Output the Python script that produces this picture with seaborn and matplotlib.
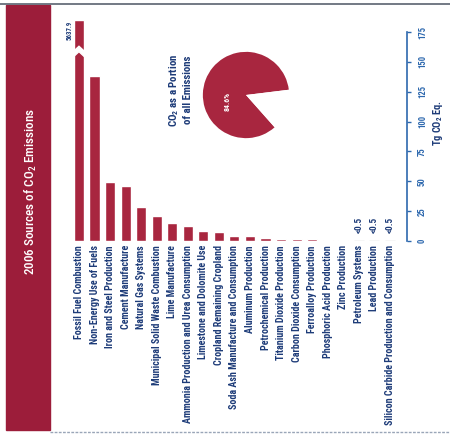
import matplotlib
matplotlib.use("Agg")
import matplotlib.pyplot as plt
import matplotlib.font_manager as fm
from matplotlib.patches import Rectangle, Polygon
from matplotlib.lines import Line2D
import seaborn as sns

categories = [
    "Fossil Fuel Combustion",
    "Non-Energy Use of Fuels",
    "Iron and Steel Production",
    "Cement Manufacture",
    "Natural Gas Systems",
    "Municipal Solid Waste Combustion",
    "Lime Manufacture",
    "Ammonia Production and Urea Consumption",
    "Limestone and Dolomite Use",
    "Cropland Remaining Cropland",
    "Soda Ash Manufacture and Consumption",
    "Aluminum Production",
    "Petrochemical Production",
    "Titanium Dioxide Production",
    "Carbon Dioxide Consumption",
    "Ferroalloy Production",
    "Phosphoric Acid Production",
    "Zinc Production",
    "Petroleum Systems",
    "Lead Production",
    "Silicon Carbide Production and Consumption",
]
values = [5637.9, 138.0, 49.1, 45.7, 28.5, 20.9, 15.1, 12.4, 8.6, 7.9,
          4.2, 3.9, 2.6, 1.9, 1.6, 1.5, 1.2, 0.5, 0.3, 0.3, 0.2]
small_flags = ["", "", "", "", "", "", "", "", "", "", "", "", "", "", "", "",
               "", "", "<0.5", "<0.5", "<0.5"]
y_ticks = [0, 25, 50, 75, 100, 125, 150, 175]
pie_values = [84.6, 15.4]
axis_cap = 185

sns.set_theme(style="white")

# pick a condensed face if one is installed
fam, stretch = "Liberation Sans", "normal"
entries = fm.fontManager.ttflist
names = {f.name for f in entries}
if "Liberation Sans Narrow" in names:
    fam = "Liberation Sans Narrow"
elif "Roboto Condensed" in names:
    fam = "Roboto Condensed"
else:
    for pref in ["Noto Sans", "Roboto", "Open Sans", "DejaVu Sans", "Liberation Sans"]:
        if any(f.name == pref and f.stretch in ("condensed", "semi-condensed", 75, 87.5)
               for f in entries):
            fam, stretch = pref, "condensed"
            break
    else:
        fam = "Roboto" if "Roboto" in names else "Liberation Sans"
plt.rcParams["font.family"] = [fam, "DejaVu Sans"]
plt.rcParams["font.stretch"] = stretch

RED = "#a8263f"
BAND = "#9c1d3a"
NAVY = "#1d3b78"
BLUE = "#2d68ae"
GREY = "#b8b8b8"

fig = plt.figure(figsize=(4.5, 4.34), dpi=100)
fig.patch.set_facecolor("white")
renderer = fig.canvas.get_renderer()


def fit_len(texts, ref, target_px):
    """scale font size of texts so that ref's rotated length equals target_px"""
    ln = ref.get_window_extent(renderer).height
    for t in texts:
        t.set_fontsize(t.get_fontsize() * target_px / ln)


# title band
fig.patches.append(Rectangle((6 / 450, 4 / 434), 44 / 450, 425 / 434,
                             transform=fig.transFigure, color=BAND, zorder=0))
title = fig.text(31 / 450, 1 - 191 / 434, r"2006 Sources of CO$_\mathregular{2}$ Emissions",
                 rotation=90, color="white", ha="center", va="center", fontsize=10.5,
                 fontweight="medium", fontstretch=stretch)
fit_len([title], title, 168)
fig.add_artist(Line2D([0, 1], [1 - 4 / 434] * 2, color="#5a6270", lw=1.2,
                      transform=fig.transFigure))
fig.add_artist(Line2D([50 / 450, 1], [1 - 432 / 434] * 2, color="#9aa6b8", lw=1,
                      ls=(0, (2, 1)), transform=fig.transFigure))

# main bar axes
ax = fig.add_axes([71.2 / 450, (434 - 241) / 434, 335.8 / 450, 221 / 434])
ax.set_facecolor("none")
disp = [min(v, axis_cap) for v in values]
colors = [GREY if f else RED for f in small_flags]
sns.barplot(x=categories, y=disp, hue=categories, palette=colors, legend=False,
            width=0.65, saturation=1, ax=ax)
ax.set_xlim(-0.5, 21.1)
ax.set_ylim(0, axis_cap)

for p, f in zip(ax.patches, small_flags):
    if f:
        p.set_edgecolor(GREY)
        p.set_linewidth(0.9)

# break in first bar
p0 = ax.patches[0]
x0, w = p0.get_x(), p0.get_width()
x1, xc = x0 + w, x0 + w / 2
ax.add_patch(Polygon([(x0 - 0.05, 154), (xc, 158.5), (x1 + 0.05, 154),
                      (x1 + 0.05, 158.5), (xc, 163), (x0 - 0.05, 158.5)],
                     closed=True, color="white", zorder=5))
big = ax.text(x0 - 0.3, axis_cap - 1, "5637.9", rotation=90, ha="center", va="top",
              fontsize=6.5, fontweight="bold", color=NAVY, clip_on=False)
fit_len([big], big, 19)

flag_texts = []
for i, (v, f) in enumerate(zip(disp, small_flags)):
    if f:
        flag_texts.append(ax.annotate(f, (i, v), xytext=(0, 5.5), textcoords="offset points",
                                      rotation=90, ha="center", va="bottom", fontsize=6.5,
                                      fontweight="bold", color=NAVY))
fit_len(flag_texts, flag_texts[0], 16)

for s in ["top", "left", "bottom"]:
    ax.spines[s].set_visible(False)
ax.spines["right"].set_visible(True)
ax.spines["right"].set_bounds(0, 175)
ax.spines["right"].set_color(BLUE)
ax.spines["right"].set_linewidth(1.2)
ax.yaxis.tick_right()
ax.set_yticks(y_ticks)
ylabels = ax.set_yticklabels([str(t) for t in y_ticks], rotation=90, va="center", ha="left",
                             fontsize=6.5, fontweight="bold", color=BLUE)
ax.tick_params(axis="y", colors=BLUE, length=3, width=1, pad=5, right=True)
ax.set_xticks(range(len(categories)))
xlabels = ax.set_xticklabels(categories, rotation=90, ha="center", va="top",
                             fontsize=6.5, fontweight="bold", color=NAVY)
ax.tick_params(axis="x", length=0, pad=3)
fig.canvas.draw()
fit_len(xlabels, xlabels[7], 178)
fit_len(ylabels, ylabels[-1], 13)

ax.yaxis.set_label_position("right")
yl = ax.set_ylabel(r"Tg CO$_\mathregular{2}$ Eq.", rotation=90, fontsize=6.5,
                   fontweight="bold", color=NAVY)
yl.set_rotation_mode("default")
yl.set_va("center")
yl.set_ha("center")
ax.yaxis.set_label_coords(1.093, 0.534)
fit_len([yl], yl, 46)
ax.grid(False)

# pie
pax = fig.add_axes([(246 - 44) / 450, (434 - 95 - 44) / 434, 88 / 450, 88 / 434])
pax.pie(pie_values, colors=[RED, "white"], startangle=7, counterclock=True,
        wedgeprops=dict(linewidth=0))
pax.set_xlim(-1.02, 1.02)
pax.set_ylim(-1.02, 1.02)
pt = pax.text(-0.43, -0.15, "84.6%", rotation=90, ha="center", va="center",
              color="white", fontsize=6, fontweight="bold")
fit_len([pt], pt, 19)
lab = fig.text(180 / 450, 1 - 90 / 434, "CO$_\\mathregular{2}$ as a Portion\nof all Emissions",
               rotation=90, ha="center", va="center", multialignment="center",
               fontsize=7, fontweight="bold", color=NAVY, linespacing=1.3)
fit_len([lab], lab, 74)

fig.savefig("out.png", dpi=100, facecolor="white")
